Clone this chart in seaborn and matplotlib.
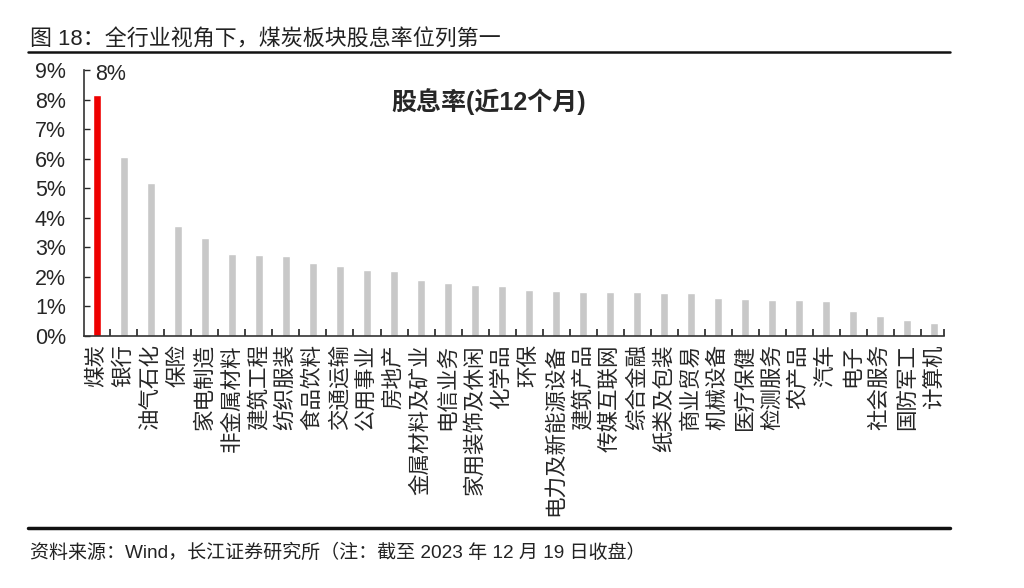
import numpy as np
import pandas as pd
import matplotlib.pyplot as plt
from matplotlib.lines import Line2D
from matplotlib.ticker import FixedLocator, FuncFormatter
import seaborn as sns

# 行业股息率(近12个月)，单位 %
industries = [
    "煤炭", "银行", "油气石化", "保险", "家电制造", "非金属材料", "建筑工程", "纺织服装",
    "食品饮料", "交通运输", "公用事业", "房地产", "金属材料及矿业", "电信业务",
    "家用装饰及休闲", "化学品", "环保", "电力及新能源设备", "建筑产品", "传媒互联网",
    "综合金融", "纸类及包装", "商业贸易", "机械设备", "医疗保健", "检测服务", "农产品",
    "汽车", "电子", "社会服务", "国防军工", "计算机",
]
dividend_yield = [
    8.15, 6.07, 5.17, 3.72, 3.31, 2.76, 2.74, 2.71,
    2.46, 2.38, 2.23, 2.21, 1.91, 1.78,
    1.74, 1.70, 1.56, 1.51, 1.49, 1.49,
    1.48, 1.47, 1.44, 1.29, 1.24, 1.22, 1.22,
    1.20, 0.85, 0.69, 0.54, 0.43,
]
highlight = "煤炭"
y_ticks = list(range(0, 10))

FONT = ["Liberation Sans", "Noto Sans CJK SC"]

sns.set_style("white")
plt.rcParams["font.family"] = FONT
plt.rcParams["axes.unicode_minus"] = False

df = pd.DataFrame({"industry": industries, "value": dividend_yield})
palette = {k: ("#EE0000" if k == highlight else "#C8C8C8") for k in industries}

fig = plt.figure(figsize=(10.24, 5.88), dpi=100)
ax = fig.add_axes([0.082, 0.4286, 0.84, 0.4524])

sns.barplot(data=df, x="industry", y="value", hue="industry", palette=palette,
            legend=False, width=0.31, saturation=1, ax=ax)

n = len(industries)
ax.set_xlim(-0.48, n - 0.63)
ax.set_ylim(0, 9)
ax.set_yticks(y_ticks)
ax.yaxis.set_major_formatter(FuncFormatter(lambda v, p: f"{int(v)}%"))
ax.tick_params(axis="y", direction="in", length=4, width=1, labelsize=15.5, pad=13,
               left=True)
ax.set_xticks(range(n))
ax.set_xticklabels(industries, rotation=90, fontsize=15.5, va="top", ha="center")
ax.tick_params(axis="x", which="major", length=0, pad=6)
ax.xaxis.set_minor_locator(FixedLocator([i + 0.5 for i in range(n - 1)] + [n - 0.63]))
ax.tick_params(axis="x", which="minor", direction="in", length=5, width=1.2,
               bottom=True, color="#222222")
ax.set_xlabel("")
ax.set_ylabel("")

for s in ["top", "right"]:
    ax.spines[s].set_visible(False)
for s in ["left", "bottom"]:
    ax.spines[s].set_color("#333333")
    ax.spines[s].set_linewidth(1.2)

# 数据标签（仅煤炭）
idx = industries.index(highlight)
ax.annotate(f"{dividend_yield[idx]:.0f}%", xy=(idx, dividend_yield[idx]),
            xytext=(10, 7), textcoords="offset points", ha="center", va="bottom",
            fontsize=15.5)

ax.text(0.47, 0.88, "股息率(近12个月)", transform=ax.transAxes, ha="center",
        va="center", fontsize=18, fontweight="bold")

# 标题与来源
fig.text(0.029, 0.932, "图 18：全行业视角下，煤炭板块股息率位列第一", fontsize=15.8,
         ha="left", va="center", color="#222222")
fig.add_artist(Line2D([0.027, 0.928], [0.912, 0.912], color="#111111", lw=1.8))
fig.add_artist(Line2D([0.027, 0.928], [0.102, 0.102], color="#111111", lw=2.5))
fig.text(0.029, 0.06, "资料来源：Wind，长江证券研究所（注：截至 2023 年 12 月 19 日收盘）",
         fontsize=13.7, ha="left", va="center", color="#222222")

fig.savefig("out.png", dpi=100)
